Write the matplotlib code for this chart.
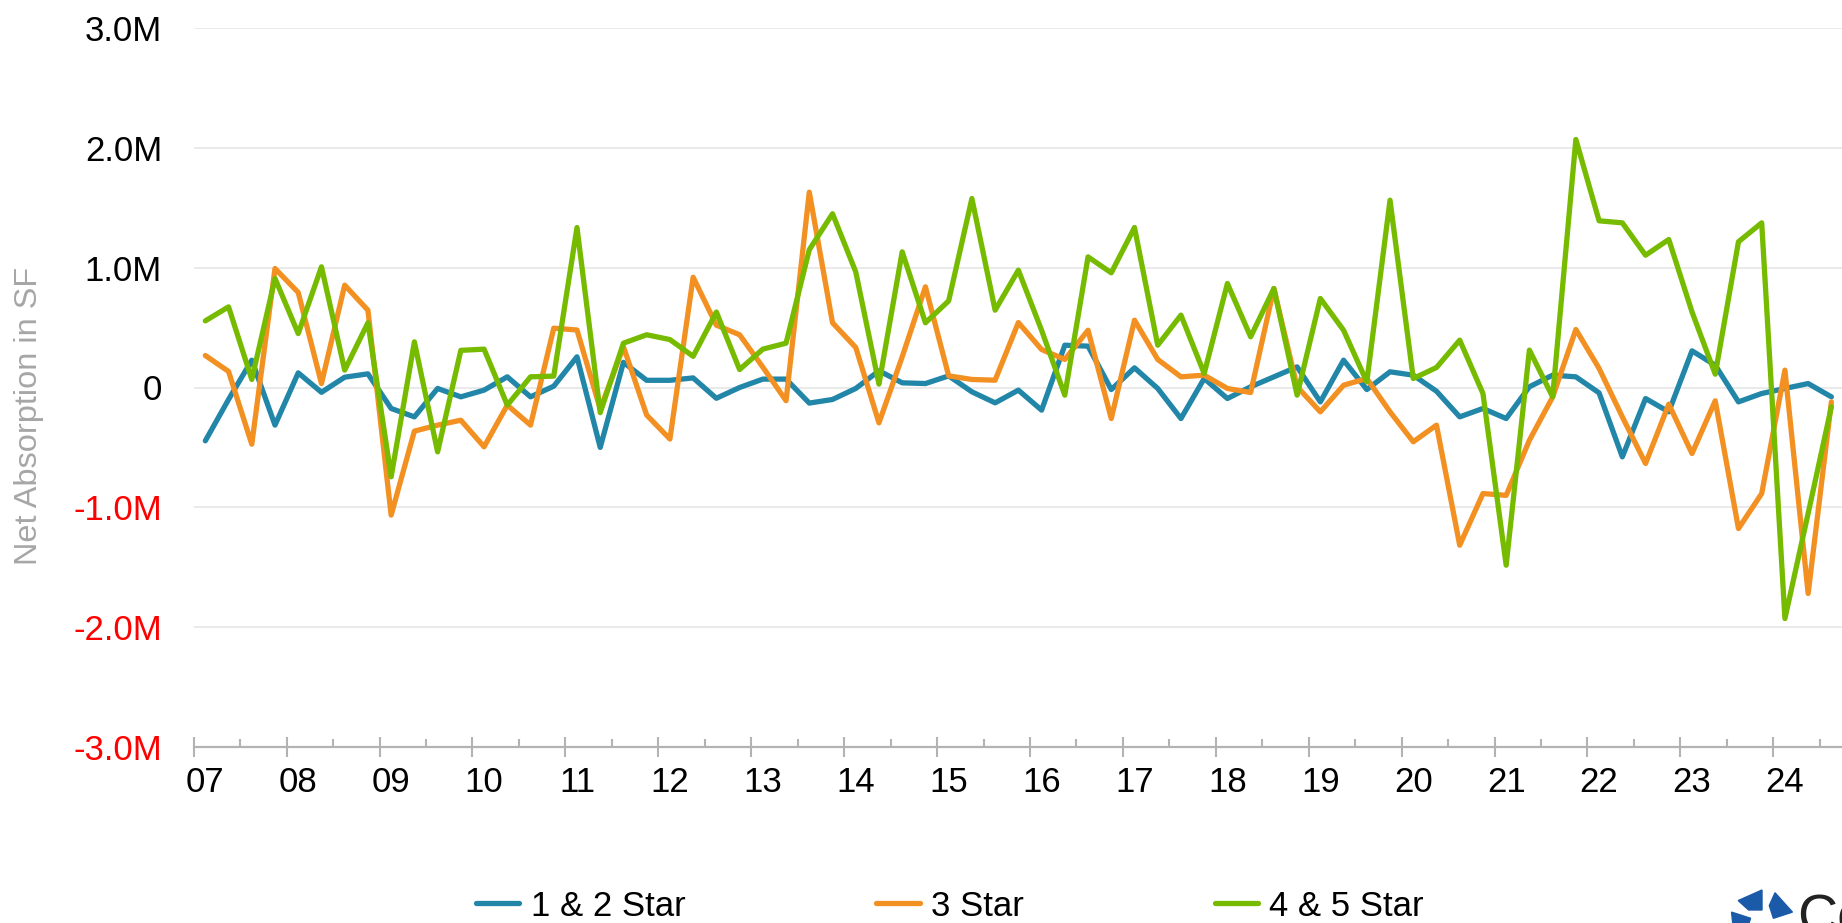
import matplotlib.pyplot as plt
from matplotlib.patches import Polygon
from matplotlib.ticker import FuncFormatter
import numpy as np

plt.rcParams['font.family'] = ['Liberation Sans', 'DejaVu Sans']

# quarterly net absorption, 2007 Q1 .. 2024 Q3, in millions of SF
star_12 = [-0.445, -0.10, 0.228, -0.314, 0.122, -0.04, 0.086, 0.114, -0.175, -0.245,
           -0.008, -0.078, -0.022, 0.089, -0.078, 0.011, 0.256, -0.50, 0.21, 0.06,
           0.06, 0.08, -0.09, 0.00, 0.07, 0.07, -0.13, -0.10, -0.008, 0.139,
           0.039, 0.033, 0.097, -0.036, -0.128, -0.022, -0.189, 0.353, 0.345, -0.017,
           0.164, -0.008, -0.259, 0.075, -0.092, 0.006, 0.089, 0.172, -0.12, 0.228,
           -0.017, 0.131, 0.103, -0.031, -0.245, -0.175, -0.259, 0.006, 0.103, 0.089,
           -0.045, -0.579, -0.092, -0.203, 0.306, 0.186, -0.12, -0.05, -0.008, 0.033,
           -0.078]
star_3 = [0.267, 0.134, -0.473, 0.993, 0.793, 0.033, 0.854, 0.645, -1.065, -0.364,
          -0.314, -0.273, -0.495, -0.147, -0.314, 0.495, 0.48, -0.18, 0.34, -0.23,
          -0.43, 0.92, 0.52, 0.44, 0.17, -0.11, 1.63, 0.54, 0.334, -0.295,
          0.256, 0.84, 0.097, 0.067, 0.061, 0.542, 0.317, 0.234, 0.478, -0.259,
          0.562, 0.234, 0.089, 0.103, -0.008, -0.042, 0.826, 0.006, -0.203, 0.019,
          0.075, -0.203, -0.453, -0.314, -1.316, -0.885, -0.90, -0.44, -0.08, 0.484,
          0.159, -0.245, -0.634, -0.139, -0.551, -0.111, -1.177, -0.885, 0.145, -1.719,
          -0.12]
star_45 = [0.556, 0.673, 0.067, 0.91, 0.45, 1.007, 0.145, 0.54, -0.745, 0.381,
           -0.537, 0.31, 0.32, -0.147, 0.089, 0.095, 1.335, -0.21, 0.37, 0.44,
           0.40, 0.26, 0.63, 0.15, 0.32, 0.37, 1.15, 1.45, 0.965, 0.028,
           1.132, 0.54, 0.723, 1.577, 0.645, 0.979, 0.478, -0.064, 1.09, 0.957,
           1.335, 0.353, 0.604, 0.117, 0.868, 0.423, 0.826, -0.064, 0.743, 0.478,
           0.047, 1.563, 0.075, 0.167, 0.395, -0.05, -1.483, 0.312, -0.078, 2.07,
           1.391, 1.374, 1.104, 1.235, 0.631, 0.111, 1.216, 1.374, -1.928, -1.05,
           -0.161]
series_names = ['1 & 2 Star', '3 Star', '4 & 5 Star']
year_labels = ['07', '08', '09', '10', '11', '12', '13', '14', '15',
               '16', '17', '18', '19', '20', '21', '22', '23', '24']
y_ticks = [-3, -2, -1, 0, 1, 2, 3]

colors = ['#2286a8', '#f39022', '#77bb00']
W, H = 1842, 923

def px(x, y):
  return (x / W, 1 - y / H)

fig = plt.figure(figsize=(W / 100, H / 100), dpi=100)
ax = fig.add_axes([193.7 / W, (H - 747) / H, (1843 - 193.7) / W, 719 / H])

x = np.arange(len(star_12))
lines = []
for vals, col in zip([star_12, star_3, star_45], colors):
  ln, = ax.plot(x, vals, color=col, lw=3.8, solid_joinstyle='round',
                solid_capstyle='round')
  lines.append(ln)

ax.set_xlim(-0.5, len(star_12) - 0.5)
ax.set_ylim(-3, 3)
ax.set_yticks(y_ticks)
ax.yaxis.set_major_formatter(FuncFormatter(lambda v, p: '0' if v == 0 else f'{v:.1f}M'))
ax.tick_params(axis='y', length=0, pad=22.8, labelsize=25)
for lab, v in zip(ax.get_yticklabels(), y_ticks):
  lab.set_color('#ff0000' if v < 0 else 'black')
ax.grid(axis='y', color='#e6e6e6', lw=1.2)
ax.set_axisbelow(True)

for s in ['top', 'right', 'left']:
  ax.spines[s].set_visible(False)
ax.spines['bottom'].set_color('#b3b3b3')
ax.spines['bottom'].set_linewidth(1.6)
ax.spines['bottom'].set_zorder(3)

ax.set_xticks(np.arange(-0.5, len(star_12), 4))
ax.set_xticks(np.arange(1.5, len(star_12), 4), minor=True)
ax.tick_params(axis='x', which='major', direction='inout', length=14.4, width=1.5,
               color='#b3b3b3', labelbottom=False)
ax.tick_params(axis='x', which='minor', direction='in', length=5.8, width=1.5,
               color='#b3b3b3', labelbottom=False)

sec = ax.secondary_xaxis('bottom')
sec.set_xticks(np.arange(0, 4 * len(year_labels), 4), labels=year_labels)
sec.tick_params(length=0, pad=13.5, labelsize=25)
sec.spines['bottom'].set_visible(False)

fig.text(*px(29, 416), 'Net Absorption in SF', rotation=90, ha='center', va='center',
         fontsize=23.4, color='#a6a6a6')

ax.legend(lines, series_names, loc='center left', bbox_to_anchor=px(476, 906),
          bbox_transform=fig.transFigure, ncol=3, frameon=False, fontsize=25,
          handlelength=1.25, handletextpad=0.32, columnspacing=5.5,
          borderpad=0, borderaxespad=0)

# CoStar logo, cut off at the figure edge
cx, cy = 1762, 922
for k in range(5):
  t = np.deg2rad(90 + 72 * k)
  t2 = t + np.deg2rad(48)
  pts = [(cx + 12 * np.cos(t), cy - 12 * np.sin(t)),
         (cx + 32 * np.cos(t), cy - 32 * np.sin(t)),
         (cx + 32 * np.cos(t2), cy - 32 * np.sin(t2)),
         (cx + 18 * np.cos(t2), cy - 18 * np.sin(t2))]
  fig.patches.append(Polygon([px(a, b) for a, b in pts], closed=True,
                             transform=fig.transFigure, color='#1b5aa8'))
fig.text(*px(1797, 934), 'CoStar', fontsize=40, color='#222222', va='baseline')

fig.savefig('out.png', dpi=100)
